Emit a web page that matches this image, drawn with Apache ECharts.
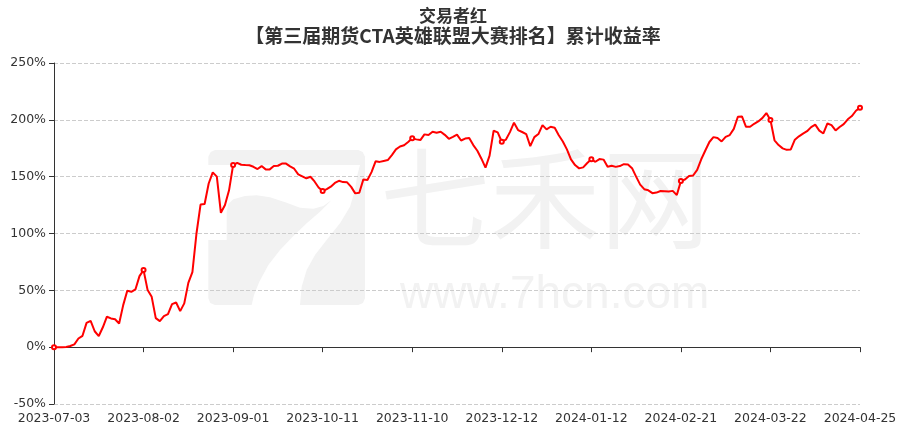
<!DOCTYPE html>
<html>
<head>
<meta charset="utf-8">
<script src="https://cdn.jsdelivr.net/npm/echarts@6/dist/echarts.min.js"></script>
<style>
html,body{margin:0;padding:0;background:#fff;}
#chart{width:906px;height:429px;}
</style>
</head>
<body>
<div id="chart"></div>
<script>
// Trading calendar (CN futures): start, end, exchange holidays on weekdays
var startDate = '2023-07-03';
var endDate = '2024-04-25';
var holidays = ['2023-09-29','2023-10-02','2023-10-03','2023-10-04','2023-10-05','2023-10-06',
  '2024-01-01','2024-02-09','2024-02-12','2024-02-13','2024-02-14','2024-02-15','2024-02-16',
  '2024-04-04','2024-04-05'];

// Cumulative return (%) per trading day
var values = [
  0, 0, 0, 0.2, 1, 2.5, 7.6, 10, 21.4, 23.2,
  14, 9.8, 17.5, 26.8, 25.3, 24.6, 20.8, 37, 49.6, 48.7,
  50.8, 62.5, 67.8, 50.2, 44.3, 25.5, 22.9, 27.3, 29, 37.9,
  39.3, 31.7, 38.5, 56.6, 66, 100, 125.5, 126, 144, 153.8,
  150, 118.2, 125, 138, 160.2, 162.2, 160.5, 160.2, 160, 158.7,
  156.7, 159.3, 156.4, 156.4, 159.3, 159.6, 161.5, 161.5, 159, 157,
  152, 150.3, 148.5, 149.9, 145.8, 140.5, 137.3, 139, 141.2, 144.5,
  146.4, 145.2, 145, 141, 135.3, 135.8, 147.6, 147, 154, 163.5,
  163, 163.8, 164.6, 169, 174, 176.5, 177.7, 180.5, 183.7, 182.8,
  182.2, 187.2, 186.6, 189.5, 188.6, 189.5, 186.8, 183.3, 185, 187,
  181.8, 183.5, 184, 177.8, 172.8, 165.8, 158, 168.5, 190.4, 189,
  180.7, 182.5, 189.2, 197.5, 191, 189.3, 187.5, 176.9, 184.8, 187.5,
  195.4, 191.6, 193.9, 193, 186.5, 181, 174, 165.2, 160.2, 157.3,
  158.2, 162, 165.3, 163.1, 165.5, 165, 158.7, 159.6, 158.6, 159.3,
  161, 160.8, 157.5, 150, 143, 139, 138, 135.5, 136, 137.4,
  137.2, 137, 137.5, 133.8, 146.1, 147.5, 150.5, 151, 156, 165.3,
  173, 180.5, 184.8, 184, 181, 185, 186.6, 192, 202.7, 203,
  193.9, 193.9, 196.5, 198.6, 201.5, 206, 199.8, 182, 177.8, 174.9,
  173.6, 174, 182.5, 185.5, 187.8, 190, 193.6, 195.8, 190.5, 188,
  196.8, 195.3, 190.7, 193.7, 196.2, 200.5, 203.3, 208, 210.7
];

var yMin = -50, yMax = 250, yStep = 50;
var titleLine1 = '交易者红';
var titleLine2 = '【第三届期货CTA英雄联盟大赛排名】累计收益率';

function pad(n){return (n<10?'0':'')+n;}
function buildDates(){
  var out = [];
  var d = new Date(startDate + 'T00:00:00Z');
  var end = new Date(endDate + 'T00:00:00Z');
  while (d <= end) {
    var s = d.getUTCFullYear() + '-' + pad(d.getUTCMonth()+1) + '-' + pad(d.getUTCDate());
    var wd = d.getUTCDay();
    if (wd !== 0 && wd !== 6 && holidays.indexOf(s) < 0) out.push(s);
    d = new Date(d.getTime() + 86400000);
  }
  return out;
}
var dates = buildDates();

// watermark logo outline (local coords, scaled 1/3)
function tx(pts){ return pts.map(function(p){ return [200 + p[0]/3, 140 + p[1]/3]; }); }
var logoTop = tx([[25,50],[32,36],[45,30],[475,30],[488,36],[495,50],[495,75],[25,75]]);
var logoLeft = tx([[80,300],[80,215],[85,192],[100,178],[135,168],[170,166],[210,172],[260,188],[300,203],[340,206],[370,198],[395,180],
  [360,215],[320,250],[280,288],[240,330],[205,375],[178,425],[162,465],[155,495],[45,495],[31,489],[25,475],[25,300]]);
var logoRight = tx([[300,495],[305,440],[320,390],[345,345],[380,300],[420,250],[450,200],[465,150],[472,105],[480,75],[495,75],
  [495,475],[489,489],[475,495]]);

var chart = echarts.init(document.getElementById('chart'));
var wm = '#f2f2f2';
var axisFont = '"DejaVu Sans", sans-serif';
chart.setOption({
  animation: false,
  backgroundColor: '#fff',
  title: [
    {
      text: titleLine1, left: 'center', top: 1,
      textStyle: {fontSize: 17, fontWeight: 'bold', color: '#333', lineHeight: 20, fontFamily: '"Noto Sans CJK SC", sans-serif'}
    },
    {
      text: titleLine2, left: 'center', top: 20,
      textStyle: {fontSize: 19, fontWeight: 'bold', color: '#333', lineHeight: 22, fontFamily: '"Noto Sans CJK SC", sans-serif'}
    }
  ],
  graphic: [
    {type: 'polygon', z: -10, silent: true, shape: {points: logoTop}, style: {fill: wm}},
    {type: 'polygon', z: -10, silent: true, shape: {points: logoLeft}, style: {fill: wm}},
    {type: 'polygon', z: -10, silent: true, shape: {points: logoRight}, style: {fill: wm}},
    {type: 'text', x: 380, y: 143, z: -10, silent: true, style: {text: '七禾网', font: 'normal 110px "Noto Sans CJK SC"', fill: wm, textVerticalAlign: 'top'}},
    {type: 'text', x: 400, y: 272, z: -10, silent: true, style: {text: 'www.7hcn.com', font: 'normal 46px "Liberation Sans"', fill: wm, textVerticalAlign: 'top'}}
  ],
  grid: {left: 54, right: 46, top: 63, bottom: 25, containLabel: false},
  xAxis: [
    {
      type: 'category', data: dates, boundaryGap: false, position: 'bottom',
      axisLine: {show: false, onZero: false},
      axisTick: {show: false},
      axisLabel: {interval: 21, color: '#333', fontSize: 12.5, fontFamily: axisFont, margin: 8},
      splitLine: {show: false}
    },
    {
      type: 'category', data: dates, boundaryGap: false, position: 'bottom',
      axisLine: {show: true, onZero: true, lineStyle: {color: '#333', width: 1}},
      axisTick: {show: true, interval: 21, length: 5, lineStyle: {color: '#333'}},
      axisLabel: {show: false},
      splitLine: {show: false}
    }
  ],
  yAxis: {
    type: 'value', min: yMin, max: yMax, interval: yStep,
    axisLine: {show: true, lineStyle: {color: '#333'}},
    axisTick: {show: true, length: 5},
    axisLabel: {formatter: '{value}%', color: '#333', fontSize: 12.5, fontFamily: axisFont},
    splitLine: {show: true, lineStyle: {type: 'dashed', color: '#ccc'}}
  },
  series: [{
    type: 'line',
    data: values,
    xAxisIndex: 0,
    symbol: 'emptyCircle',
    symbolSize: 4,
    showSymbol: true,
    lineStyle: {color: '#ff0000', width: 2},
    itemStyle: {color: '#ff0000'},
    z: 3
  }]
});
</script>
</body>
</html>
